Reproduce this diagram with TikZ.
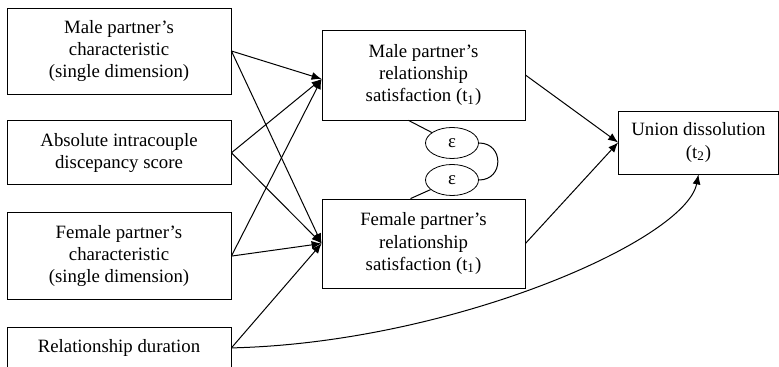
\documentclass[tikz,border=0pt]{standalone}
\usepackage{fontspec}
\setmainfont{Liberation Serif}
\usepackage{tikz}
\usetikzlibrary{shapes,arrows,arrows.meta}
\usetikzlibrary{positioning}
\tikzstyle{block} = [draw, rectangle, align=center, inner sep=1pt,
minimum width=112pt, font=\fontsize{9.4}{11.2}\selectfont]
\tikzstyle{line} = [draw, -{Latex[length=5pt,width=4pt]}, line width=0.5pt]

\begin{document}
\begin{tikzpicture}[x=0.5pt, y=-0.5pt, node distance=13.5pt,
	err/.style={draw, ellipse, inner sep=0pt, minimum width=26.5pt,
		minimum height=15.5pt, font=\fontsize{9.4}{11.2}\selectfont}]
	\useasboundingbox (0,0) rectangle (779,367);
	\node [block, minimum height=43pt] (maleChar) at (119,51) {Male partner’s\\characteristic\\(single dimension)};
	\node [block, minimum height=32pt, below=13pt of maleChar] (discrep) {Absolute intracouple\\discepancy score};
	\node [block, minimum height=43.5pt, below=of discrep] (femChar) {Female partner’s\\characteristic\\(single dimension)};
	\node [block, minimum height=20.5pt, below=of femChar] (duration) {Relationship duration};
	\node [block, minimum width=101.5pt, minimum height=45pt] (maleSat) at (423.5,75) {Male partner’s\\relationship\\satisfaction (t\textsubscript{1})};
	\node [block, minimum width=101.5pt, minimum height=44.5pt] (femSat) at (423.5,243.5) {Female partner’s\\relationship\\satisfaction (t\textsubscript{1})};
	\node [block, minimum width=80pt, minimum height=31.5pt] (union) at (698.5,142.5) {Union dissolution\\(t\textsubscript{2})};
	\node [err] (eps1) at (452,143) {ε};
	\node [err] (eps2) at (452,180) {ε};
	%% Paths
	\foreach \src in {maleChar, discrep, femChar} {
		\path [line] (\src.east) to ([yshift=-2pt]maleSat.west);
		\path [line] (\src.east) to (femSat.west);
	}
	\path [line] (duration.east) to (femSat.west);
	\path [line] (maleSat.east) to (union.west);
	\path [line] (femSat.east) to (union.west);
	\path [line] (duration.east) .. controls +(220,-5) and +(-13,66) .. (union.south);
	%% Errors
	\draw [line width=0.5pt] ([xshift=-7.5pt]maleSat.south) -- (eps1);
	\draw [line width=0.5pt] ([xshift=-6.5pt]femSat.north) -- (eps2);
	\draw [line width=0.5pt] (eps1.east) to [out=0, in=0, looseness=1.75] (eps2.east);
\end{tikzpicture}
\end{document}
